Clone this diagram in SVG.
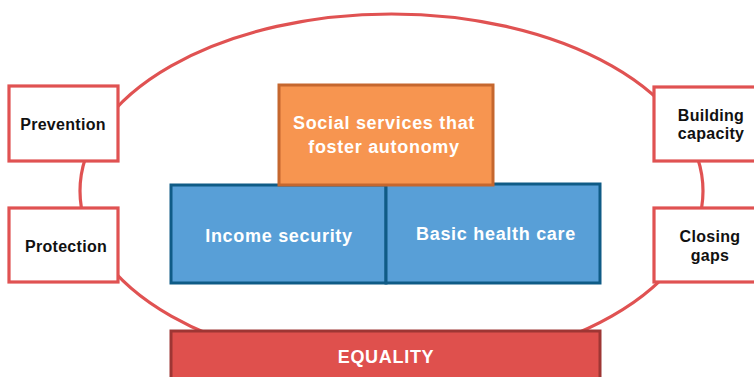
<svg xmlns="http://www.w3.org/2000/svg" width="754" height="377" viewBox="0 0 754 377">
<style>
.side{fill:#ffffff;stroke:#E05252;stroke-width:3.2}
.lbl{font-family:"Liberation Sans",Arial,sans-serif;font-weight:bold;text-anchor:middle}
.dark{fill:#111111;font-size:16px;letter-spacing:0.3px}
.white{fill:#ffffff;font-size:18px;letter-spacing:0.7px}
</style>
<rect width="754" height="377" fill="#ffffff"/>
<g id="connectors">
<ellipse cx="391.5" cy="191" rx="311.5" ry="177" fill="none" stroke="#E05252" stroke-width="3.2"/>
</g>
<g id="prevention">
<rect class="side" x="9" y="86" width="109" height="75"/>
<text class="lbl dark" x="63" y="130">Prevention</text>
</g>
<g id="protection">
<rect class="side" x="9" y="208" width="109" height="74"/>
<text class="lbl dark" x="66" y="252">Protection</text>
</g>
<g id="building-capacity">
<rect class="side" x="654" y="87" width="112" height="74"/>
<text class="lbl dark" x="711" y="121">Building</text>
<text class="lbl dark" x="711" y="139">capacity</text>
</g>
<g id="closing-gaps">
<rect class="side" x="654" y="208" width="112" height="74"/>
<text class="lbl dark" x="710" y="242">Closing</text>
<text class="lbl dark" x="710" y="261">gaps</text>
</g>
<g id="income-security">
<rect x="171" y="185" width="215" height="98" fill="#589FD7" stroke="#0F5B86" stroke-width="3"/>
<text class="lbl white" x="279" y="242">Income security</text>
</g>
<g id="basic-health-care">
<rect x="386" y="184" width="214" height="99" fill="#589FD7" stroke="#0F5B86" stroke-width="3"/>
<text class="lbl white" x="496" y="240">Basic health care</text>
</g>
<g id="social-services">
<rect x="279" y="85" width="214" height="100" fill="#F79550" stroke="#C5672E" stroke-width="3"/>
<text class="lbl white" x="384" y="129">Social services that</text>
<text class="lbl white" x="384" y="153">foster autonomy</text>
</g>
<g id="equality">
<rect x="171" y="331" width="429" height="60" fill="#DF504D" stroke="#9E3634" stroke-width="3"/>
<text class="lbl white" x="386" y="363">EQUALITY</text>
</g>
</svg>
